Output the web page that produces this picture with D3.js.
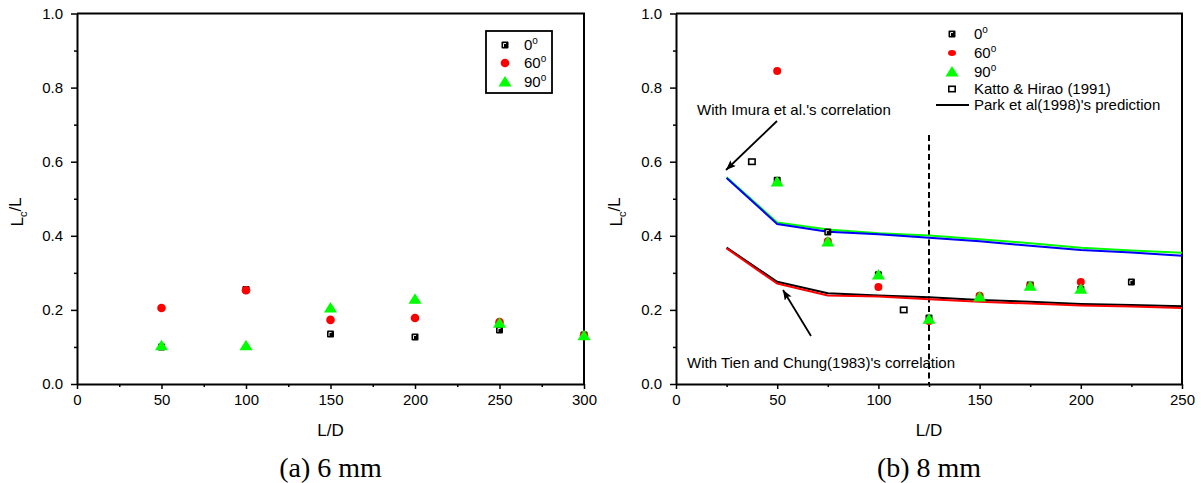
<!DOCTYPE html>
<html>
<head>
<meta charset="utf-8">
<script src="https://cdn.jsdelivr.net/npm/d3@7"></script>
<style>
  body { margin: 0; background: #fff; }
  text { font-family: "Liberation Sans", Arial, sans-serif; fill: #000; }
  text.cap { font-family: "Liberation Serif", "Times New Roman", serif; }
</style>
</head>
<body>
<svg id="chart" width="1201" height="483"></svg>
<script>
// ---- data: (a) 6 mm ----
const ld6 = [50, 100, 150, 200, 250, 300];
const deg0_6 = [0.100, 0.255, 0.135, 0.127, 0.146, 0.132];
const deg60_6 = [0.205, 0.253, 0.173, 0.178, 0.167, 0.130];
const deg90_6 = [0.103, 0.103, 0.205, 0.229, 0.164, 0.130];

// ---- data: (b) 8 mm ----
const ld8_0 = [50, 75, 100, 125, 150, 175, 200, 225];
const deg0_8 = [0.550, 0.410, 0.295, 0.178, 0.235, 0.267, 0.256, 0.275];
const ld8_60 = [50, 75, 100, 125, 150, 175, 200];
const deg60_8 = [0.845, 0.385, 0.262, 0.170, 0.238, 0.265, 0.275];
const ld8_90 = [50, 75, 100, 125, 150, 175, 200];
const deg90_8 = [0.545, 0.383, 0.294, 0.175, 0.235, 0.264, 0.256];
const kattoLD = [37.5, 112.5];
const kattoVal = [0.600, 0.200];

// Park et al (1998) predictions
const parkLD = [25, 50, 75, 100, 125, 150, 175, 200, 225, 250];
const imuraGreen = [0.558, 0.436, 0.417, 0.407, 0.401, 0.391, 0.380, 0.368, 0.360, 0.354];
const imuraBlue = [0.556, 0.432, 0.411, 0.404, 0.395, 0.385, 0.373, 0.362, 0.355, 0.346];
const tienBlack = [0.368, 0.276, 0.245, 0.239, 0.234, 0.227, 0.222, 0.216, 0.213, 0.210];
const tienRed = [0.366, 0.271, 0.239, 0.236, 0.229, 0.222, 0.217, 0.212, 0.209, 0.205];

const yTicks = [0, 0.2, 0.4, 0.6, 0.8, 1.0];
const yMinor = [0.1, 0.3, 0.5, 0.7, 0.9];

const svg = d3.select("#chart");
const plotTop = 13.5, plotBottom = 384;
const fs = "15px";

// markers
function square(g, x, y) {
  g.append("rect").attr("x", x - 3.5).attr("y", y - 3.5).attr("width", 7).attr("height", 7)
    .attr("rx", 1).attr("fill", "#000");
  g.append("path").attr("d", `M${x - 1.5},${y + 2}V${y - 1.5}H${x + 1}`)
    .attr("fill", "none").attr("stroke", "#fff").attr("stroke-width", 0.9);
}
function hollow(g, x, y) {
  g.append("rect").attr("x", x - 3.2).attr("y", y - 2.7).attr("width", 6.4).attr("height", 5.4)
    .attr("fill", "#fff").attr("stroke", "#000").attr("stroke-width", 1.6);
}
function dot(g, x, y, rx, ry) {
  g.append("ellipse").attr("cx", x).attr("cy", y).attr("rx", rx).attr("ry", ry || rx).attr("fill", "#ff0000");
}
function tri(g, x, y) {
  g.append("path").attr("d", `M${x},${y - 6}L${x + 6.5},${y + 4.5}L${x - 6.5},${y + 4.5}Z`).attr("fill", "#00ff00");
}

function degText(g, x, y, num) {
  const t = g.append("text").attr("x", x).attr("y", y).attr("dy", "0.35em").style("font-size", fs);
  t.append("tspan").text(num);
  t.append("tspan").attr("dy", "-0.6em").style("font-size", "10px").text("o");
}

function panel(x0, x1, xmax, caption, ylabX) {
  const xScale = d3.scaleLinear([0, xmax], [x0, x1]);
  const yScale = d3.scaleLinear([0, 1], [plotBottom, plotTop]);
  const g = svg.append("g");

  // x axis
  g.append("g").attr("transform", `translate(0,${plotBottom})`)
    .call(d3.axisBottom(xScale).tickValues(d3.range(25, xmax, 50)).tickSize(3).tickFormat(""))
    .call(a => a.select(".domain").remove())
    .call(a => a.selectAll("line").attr("stroke-width", 1.5));
  g.append("g").attr("transform", `translate(0,${plotBottom})`)
    .call(d3.axisBottom(xScale).tickValues(d3.range(0, xmax + 1, 50)).tickSize(5).tickSizeOuter(0).tickPadding(5))
    .call(a => a.select(".domain").attr("stroke-width", 2))
    .call(a => a.selectAll("line").attr("stroke-width", 1.5))
    .call(a => a.selectAll("text").style("font-size", fs).style("font-family", "Liberation Sans, Arial"));

  // y axis
  g.append("g").attr("transform", `translate(${x0},0)`)
    .call(d3.axisLeft(yScale).tickValues(yMinor).tickSize(3).tickFormat(""))
    .call(a => a.select(".domain").remove())
    .call(a => a.selectAll("line").attr("stroke-width", 1.5));
  g.append("g").attr("transform", `translate(${x0},0)`)
    .call(d3.axisLeft(yScale).tickValues(yTicks).tickSize(6).tickSizeOuter(0).tickPadding(8).tickFormat(d3.format(".1f")))
    .call(a => a.select(".domain").attr("stroke-width", 2))
    .call(a => a.selectAll("line").attr("stroke-width", 1.5))
    .call(a => a.selectAll("text").style("font-size", fs).style("font-family", "Liberation Sans, Arial"));

  // top / right frame
  g.append("path").attr("d", `M${x0},${plotTop}H${x1}V${plotBottom}`)
    .attr("fill", "none").attr("stroke", "#000").attr("stroke-width", 2);

  // labels
  g.append("text").attr("x", (x0 + x1) / 2).attr("y", 430).attr("dy", "0.35em")
    .attr("text-anchor", "middle").style("font-size", "17px").text("L/D");
  const yl = g.append("text").attr("transform", `translate(${ylabX},212) rotate(-90)`)
    .attr("text-anchor", "middle").style("font-size", "17px");
  yl.append("tspan").text("L");
  yl.append("tspan").attr("dy", "0.35em").style("font-size", "11px").text("c");
  yl.append("tspan").attr("dy", "-0.35em").text("/L");
  g.append("text").attr("class", "cap").attr("x", (x0 + x1) / 2).attr("y", 467).attr("dy", "0.35em")
    .attr("text-anchor", "middle").style("font-size", "28px").text(caption);

  return { g, xScale, yScale };
}

// ---------- (a) 6 mm ----------
{
  const { g, xScale, yScale } = panel(77, 584, 300, "(a) 6 mm", 23);
  const m = g.append("g");
  ld6.forEach((d, i) => square(m, xScale(d), yScale(deg0_6[i])));
  ld6.forEach((d, i) => dot(m, xScale(d), yScale(deg60_6[i]), 4.3));
  ld6.forEach((d, i) => tri(m, xScale(d), yScale(deg90_6[i])));

  // legend box
  const lg = g.append("g");
  lg.append("rect").attr("x", 486).attr("y", 31).attr("width", 66).attr("height", 62)
    .attr("fill", "#fff").attr("stroke", "#000").attr("stroke-width", 1.8);
  square(lg, 505, 45); degText(lg, 524, 45, "0");
  dot(lg, 505, 63, 4.3); degText(lg, 524, 63, "60");
  tri(lg, 505, 82); degText(lg, 524, 82, "90");
}

// ---------- (b) 8 mm ----------
{
  const { g, xScale, yScale } = panel(676, 1182, 250, "(b) 8 mm", 622);

  // dashed line at L/D = 125
  g.append("line").attr("x1", xScale(125)).attr("x2", xScale(125))
    .attr("y1", yScale(0.672)).attr("y2", yScale(0))
    .attr("stroke", "#000").attr("stroke-width", 2).attr("stroke-dasharray", "6,3.5");

  const line = d3.line().x((d, i) => xScale(parkLD[i])).y(d => yScale(d));
  [[imuraGreen, "#00ff00"], [imuraBlue, "#0000ff"], [tienBlack, "#000"], [tienRed, "#ff0000"]]
    .forEach(([vals, c]) => g.append("path").attr("d", line(vals))
      .attr("fill", "none").attr("stroke", c).attr("stroke-width", 2));

  const m = g.append("g");
  kattoLD.forEach((d, i) => hollow(m, xScale(d), yScale(kattoVal[i])));
  ld8_0.forEach((d, i) => square(m, xScale(d), yScale(deg0_8[i])));
  ld8_60.forEach((d, i) => dot(m, xScale(d), yScale(deg60_8[i]), 4));
  ld8_90.forEach((d, i) => tri(m, xScale(d), yScale(deg90_8[i])));

  // annotations with arrows
  svg.append("defs").append("marker").attr("id", "ah")
    .attr("viewBox", "0 0 10 8").attr("refX", 10).attr("refY", 4)
    .attr("markerWidth", 10).attr("markerHeight", 8).attr("markerUnits", "userSpaceOnUse")
    .attr("orient", "auto")
    .append("path").attr("d", "M0,0L10,4L0,8L2,4Z").attr("fill", "#000");

  g.append("text").attr("x", 697).attr("y", 110).attr("dy", "0.35em").style("font-size", fs)
    .text("With Imura et al.'s correlation");
  g.append("line").attr("x1", 777).attr("y1", 121).attr("x2", 726).attr("y2", 170)
    .attr("stroke", "#000").attr("stroke-width", 1.8).attr("marker-end", "url(#ah)");

  g.append("text").attr("x", 687).attr("y", 363).attr("dy", "0.35em").style("font-size", fs)
    .text("With Tien and Chung(1983)'s correlation");
  g.append("line").attr("x1", 811).attr("y1", 336).attr("x2", 783).attr("y2", 290)
    .attr("stroke", "#000").attr("stroke-width", 1.8).attr("marker-end", "url(#ah)");

  // legend (no box)
  const lg = g.append("g");
  square(lg, 952, 34); degText(lg, 974, 34, "0");
  dot(lg, 952, 53, 4, 3); degText(lg, 974, 53, "60");
  tri(lg, 952, 72); degText(lg, 974, 72, "90");
  hollow(lg, 952, 89);
  lg.append("text").attr("x", 974).attr("y", 89).attr("dy", "0.35em").style("font-size", fs).text("Katto & Hirao (1991)");
  lg.append("line").attr("x1", 936).attr("x2", 969).attr("y1", 105).attr("y2", 105)
    .attr("stroke", "#000").attr("stroke-width", 2);
  lg.append("text").attr("x", 974).attr("y", 105).attr("dy", "0.35em").style("font-size", fs).text("Park et al(1998)'s prediction");
}
</script>
</body>
</html>
